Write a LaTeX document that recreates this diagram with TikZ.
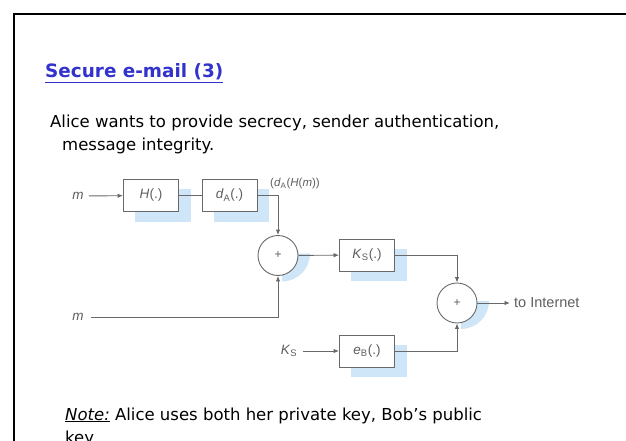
\documentclass[tikz,border=0pt]{standalone}
\usepackage{fontspec}
\setmainfont{Liberation Sans}
\newfontfamily\slidefont{DejaVu Sans}
\usetikzlibrary{arrows.meta,calc,backgrounds}
\definecolor{titleblue}{RGB}{50,50,205}
\definecolor{shadeblue}{RGB}{206,230,247}
\definecolor{ink}{RGB}{95,95,95}
\definecolor{wire}{RGB}{105,105,105}

\begin{document}
\begin{tikzpicture}[x=1pt,y=-1pt,
  fnbox/.style={draw=wire, line width=0.9pt, fill=white, minimum width=55pt,
    minimum height=32pt, inner sep=0pt, text=ink, font=\fontsize{13.5}{13.5}\selectfont},
  sumnode/.style={circle, draw=wire, line width=0.9pt, fill=white,
    minimum size=40pt, inner sep=0pt, text=ink, font=\fontsize{12}{12}\selectfont},
  lbl/.style={inner sep=0pt, text=ink, font=\fontsize{13.5}{13.5}\selectfont},
  wirel/.style={draw=wire, line width=0.9pt},
  arr/.style={wirel, -{Latex[length=5.5pt,width=4.5pt]}},
  body/.style={inner sep=0pt, anchor=base west, font=\slidefont\fontsize{16.5}{20}\selectfont}
]
\useasboundingbox (0,0) rectangle (626,441);
\clip (0,0) rectangle (626,441);

% slide frame
\draw[line width=2.2pt] (14,460) -- (14,14) -- (650,14);

% title and text
\node[body, text=titleblue, font=\slidefont\fontsize{18.4}{22}\selectfont\bfseries] (title) at (45,78) {Secure e-mail (3)};
\draw[titleblue, line width=1.3pt] ([yshift=-4.5pt]title.base west) -- ([yshift=-4.5pt]title.base east);
\node[body] (line1) at (50,128) {Alice wants to provide secrecy, sender authentication,};
\node[body] (line2) at (62,150) {message integrity.};
\node[body] (note1) at (65,420) {\underline{\textit{Note:}} Alice uses both her private key, Bob’s public};
\node[body] (note2) at (65,443) {key};

% block diagram
\node[lbl] (m1) at (78,196) {\textit{m}};
\node[fnbox] (H) at (151,195.5) {\textit{H}(.)};
\node[fnbox] (dA) at (229.5,195.5) {\textit{d}\textsubscript{A}(.)};
\node[lbl, anchor=west] (sig) at (270,184) {\fontsize{11.5}{11.5}\selectfont(\textit{d}\textsubscript{A}(\textit{H}(\textit{m}))};
\node[sumnode] (s1) at (278,255.5) {+};
\node[fnbox] (Ks) at (367,255) {\textit{K}\textsubscript{S}(.)};
\node[lbl] (m2) at (78,317) {\textit{m}};
\node[sumnode] (s2) at (457,303) {+};
\node[lbl, anchor=west, font=\fontsize{14.5}{14.5}\selectfont] (net) at (514,303) {to Internet};
\node[lbl] (KS) at (289,351) {\textit{K}\textsubscript{S}};
\node[fnbox] (eB) at (367,351) {\textit{e}\textsubscript{B}(.)};

% drop shadows behind the blocks
\begin{scope}[on background layer]
  \fill[white] (0,0) rectangle (626,441);
  \foreach \b in {H,dA,Ks,eB}
    \fill[shadeblue] ([shift={(12,10)}]\b.north west) rectangle ([shift={(12,10)}]\b.south east);
  \foreach \c in {s1,s2}
    \fill[shadeblue] ([shift={(4,-2)}]\c.center) -- ++(28,0) arc[start angle=0,end angle=90,radius=28] -- cycle;
\end{scope}

% connectors
\draw[arr, shorten <=5pt] (m1) -- (H);
\draw[wirel] (H) -- (dA);
\draw[arr] (dA.east) -| (s1.north);
\draw[arr] (s1) -- (Ks);
\draw[arr] (Ks.east) -| (s2.north);
\draw[arr, shorten <=7pt] (m2.east) -| (s1.south);
\draw[arr, shorten <=6pt] (KS) -- (eB);
\draw[arr] (eB.east) -| (s2.south);
\draw[arr, shorten >=4pt] (s2) -- (net);
\end{tikzpicture}
\end{document}
